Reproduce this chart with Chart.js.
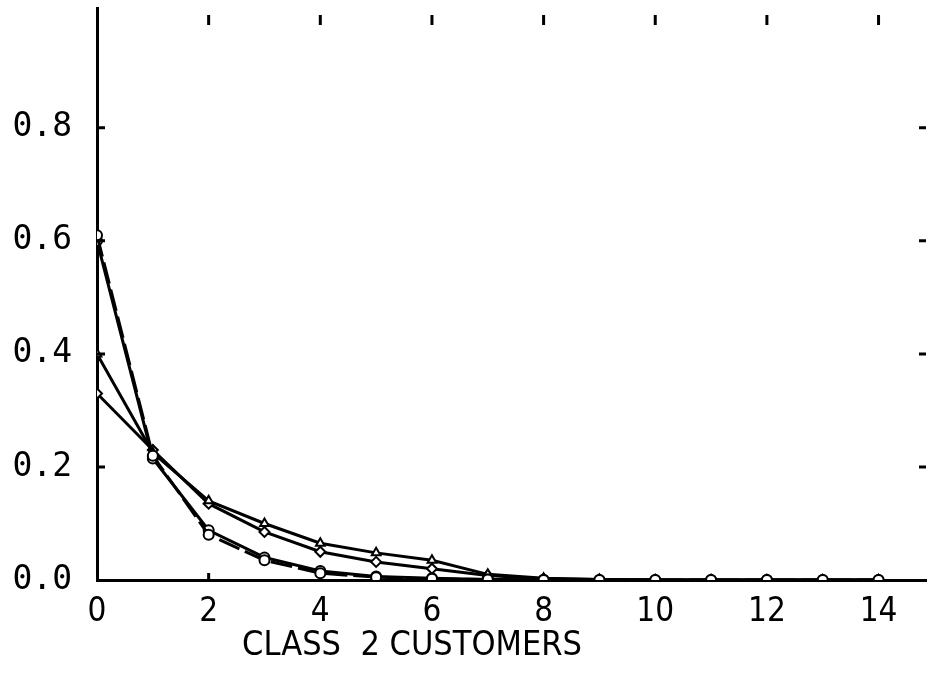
<!DOCTYPE html>
<html>
<head>
<meta charset="utf-8">
<script src="https://cdn.jsdelivr.net/npm/chart.js@4/dist/chart.umd.min.js"></script>
<style>
  html, body { margin: 0; padding: 0; background: #fff; }
  #wrap { width: 933px; height: 674px; }
</style>
</head>
<body>
<div id="wrap"><canvas id="c" width="933" height="674"></canvas></div>
<script>
// number of class 2 customers (x values)
const customers = [0, 1, 2, 3, 4, 5, 6, 7, 8, 9, 10, 11, 12, 13, 14];

// probabilities
const seriesA = [0.61, 0.22, 0.080, 0.035, 0.012, 0.005, 0.002, 0.001, 0, 0, 0, 0, 0, 0, 0];
const seriesB = [0.60, 0.215, 0.088, 0.040, 0.016, 0.006, 0.003, 0.001, 0.0005, 0, 0, 0, 0, 0, 0];
const seriesC = [0.40, 0.225, 0.140, 0.100, 0.065, 0.048, 0.035, 0.010, 0.003, 0.001, 0, 0, 0, 0, 0];
const seriesD = [0.33, 0.230, 0.135, 0.085, 0.050, 0.032, 0.020, 0.008, 0.002, 0.001, 0, 0, 0, 0, 0];

const xTicks = [0, 2, 4, 6, 8, 10, 12, 14];
const yTicks = [0.0, 0.2, 0.4, 0.6, 0.8];
const axisTitle = 'CLASS  2 CUSTOMERS';

const narrowFont = '"Liberation Sans Narrow", "DejaVu Sans Condensed", sans-serif';

const toPoints = (vals) => vals.map((v, i) => ({ x: customers[i], y: v }));

const mkSet = (vals, style, dash) => ({
  data: toPoints(vals),
  borderColor: '#000',
  backgroundColor: '#fff',
  borderWidth: 3,
  borderDash: dash || [],
  pointStyle: style,
  pointRadius: 5,
  pointBorderWidth: 2,
  pointBorderColor: '#000',
  tension: 0
});

// inward tick marks on all four sides, plus the axis title
const frameTicks = {
  id: 'frameTicks',
  afterDraw(chart) {
    const { ctx, chartArea: a, scales: { x, y } } = chart;
    ctx.save();
    ctx.strokeStyle = '#000';
    ctx.lineWidth = 3;
    ctx.beginPath();
    yTicks.filter(v => v > 0).forEach(v => {
      const py = y.getPixelForValue(v);
      ctx.moveTo(a.left, py); ctx.lineTo(a.left + 8, py);
      ctx.moveTo(a.right - 7, py); ctx.lineTo(a.right, py);
    });
    xTicks.filter(v => v > 0).forEach(v => {
      const px = x.getPixelForValue(v);
      ctx.moveTo(px, a.top + 7); ctx.lineTo(px, a.top + 17);
    });
    const p2 = x.getPixelForValue(2);
    ctx.moveTo(p2, a.bottom); ctx.lineTo(p2, a.bottom - 7);
    ctx.stroke();

    ctx.fillStyle = '#000';
    ctx.font = '34px ' + narrowFont;
    ctx.textAlign = 'center';
    ctx.textBaseline = 'middle';
    ctx.fillText(axisTitle, 412, 646);
    ctx.restore();
  }
};

new Chart(document.getElementById('c'), {
  type: 'line',
  data: {
    datasets: [
      mkSet(seriesA, 'circle', [22, 6]),
      mkSet(seriesB, 'circle'),
      mkSet(seriesC, 'triangle'),
      mkSet(seriesD, 'rectRot')
    ]
  },
  options: {
    responsive: false,
    animation: false,
    layout: { padding: { top: 8, right: 3, left: 0, bottom: 0 } },
    plugins: { legend: { display: false }, tooltip: { enabled: false } },
    scales: {
      x: {
        type: 'linear',
        min: 0,
        max: 14.85,
        afterFit: (s) => { s.height = 94; s.paddingLeft = 0; s.paddingRight = 0; },
        afterBuildTicks: (s) => { s.ticks = xTicks.map(v => ({ value: v })); },
        grid: { display: false, drawTicks: false },
        border: { display: true, color: '#000', width: 3 },
        ticks: {
          color: '#000',
          padding: 13,
          maxRotation: 0,
          font: { family: narrowFont, size: 33 },
          callback: (v) => String(v)
        }
      },
      y: {
        type: 'linear',
        min: 0,
        max: 1.012,
        afterFit: (s) => { s.width = 97; s.paddingTop = 0; s.paddingBottom = 0; },
        afterBuildTicks: (s) => { s.ticks = yTicks.map(v => ({ value: v })); },
        grid: { display: false, drawTicks: false },
        border: { display: true, color: '#000', width: 3 },
        ticks: {
          color: '#000',
          padding: 25,
          font: { family: '"DejaVu Sans Mono", monospace', size: 33 },
          callback: (v) => v.toFixed(1)
        }
      }
    }
  },
  plugins: [frameTicks]
});
</script>
</body>
</html>
